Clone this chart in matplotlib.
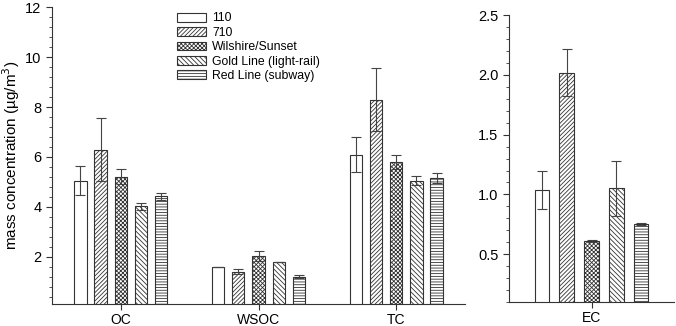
import matplotlib
matplotlib.use("Agg")
import matplotlib.pyplot as plt
import numpy as np
from matplotlib.ticker import MultipleLocator

plt.rcParams['font.family'] = ['Liberation Sans', 'DejaVu Sans']
plt.rcParams['hatch.linewidth'] = 0.6
plt.rcParams['hatch.color'] = '#222222'

series = ["110", "710", "Wilshire/Sunset", "Gold Line (light-rail)", "Red Line (subway)"]
hatches = ["", "////////", "xxxxxxxx", "\\\\\\\\\\\\\\", "------"]

left_cats = ["OC", "WSOC", "TC"]
left_vals = {
    "110": [5.05, 1.60, 6.10],
    "710": [6.30, 1.40, 8.30],
    "Wilshire/Sunset": [5.20, 2.02, 5.80],
    "Gold Line (light-rail)": [4.02, 1.78, 5.05],
    "Red Line (subway)": [4.42, 1.20, 5.15],
}
left_errs = {
    "110": [0.57, 0.0, 0.70],
    "710": [1.25, 0.10, 1.27],
    "Wilshire/Sunset": [0.30, 0.20, 0.30],
    "Gold Line (light-rail)": [0.13, 0.0, 0.18],
    "Red Line (subway)": [0.15, 0.05, 0.20],
}

right_cats = ["EC"]
right_vals = {
    "110": [1.04],
    "710": [2.02],
    "Wilshire/Sunset": [0.61],
    "Gold Line (light-rail)": [1.05],
    "Red Line (subway)": [0.755],
}
right_errs = {
    "110": [0.16],
    "710": [0.20],
    "Wilshire/Sunset": [0.01],
    "Gold Line (light-rail)": [0.23],
    "Red Line (subway)": [0.01],
}

fig = plt.figure(figsize=(6.76, 3.26), dpi=100)
ax1 = fig.add_axes([0.0769, 0.0675, 0.611, 0.9095])
ax2 = fig.add_axes([0.753, 0.0736, 0.244, 0.880])

edge = '#333333'
ecol = '#444444'
width = 0.09
step = 0.147

def draw(ax, cats, vals, errs, step):
    x = np.arange(len(cats))
    handles = []
    for i, s in enumerate(series):
        xs = x + (i - 2) * step
        b = ax.bar(xs, vals[s], width, color='white', edgecolor=edge,
                   linewidth=0.8, hatch=hatches[i], label=s, zorder=2)
        handles.append(b)
        ax.errorbar(xs, vals[s], yerr=errs[s], fmt='none', ecolor=ecol,
                    elinewidth=0.8, capsize=3.5, capthick=0.8, zorder=3)
    ax.set_xticks(x)
    ax.set_xticklabels(cats)
    ax.spines['top'].set_visible(False)
    ax.spines['right'].set_visible(False)
    for sp in ['left', 'bottom']:
        ax.spines[sp].set_linewidth(0.8)
        ax.spines[sp].set_color('#333333')
    ax.tick_params(axis='both', direction='out', width=0.8, length=4, colors='#333333', labelsize=10.5, labelcolor='black')
    ax.tick_params(axis='x', labelsize=10, pad=2.5)
    ax.tick_params(axis='y', which='minor', direction='out', width=0.6, length=2.5, colors='#333333')
    return handles

handles = draw(ax1, left_cats, left_vals, left_errs, step)
ax1.set_xlim(-0.5, 2.5)
ax1.set_ylim(0.1, 12)
ax1.set_yticks([2, 4, 6, 8, 10, 12])
ax1.yaxis.set_minor_locator(MultipleLocator(0.4))
ax1.set_ylabel("mass concentration (µg/m$^3$)", fontsize=11, labelpad=2)

draw(ax2, right_cats, right_vals, right_errs, 0.15)
ax2.set_xlim(-0.5, 0.5)
ax2.set_ylim(0.1, 2.5)
ax2.set_yticks([0.5, 1.0, 1.5, 2.0, 2.5])
ax2.set_yticklabels(["0.5", "1.0", "1.5", "2.0", "2.5"])
ax2.yaxis.set_minor_locator(MultipleLocator(0.1))

leg = ax1.legend(handles=handles, labels=series, loc='upper left',
                 bbox_to_anchor=(0.29, 1.0), frameon=False, fontsize=8.8,
                 handlelength=2.4, handleheight=0.75, handletextpad=0.5,
                 labelspacing=0.2, borderaxespad=0.0)

fig.savefig("out.png", dpi=100)
